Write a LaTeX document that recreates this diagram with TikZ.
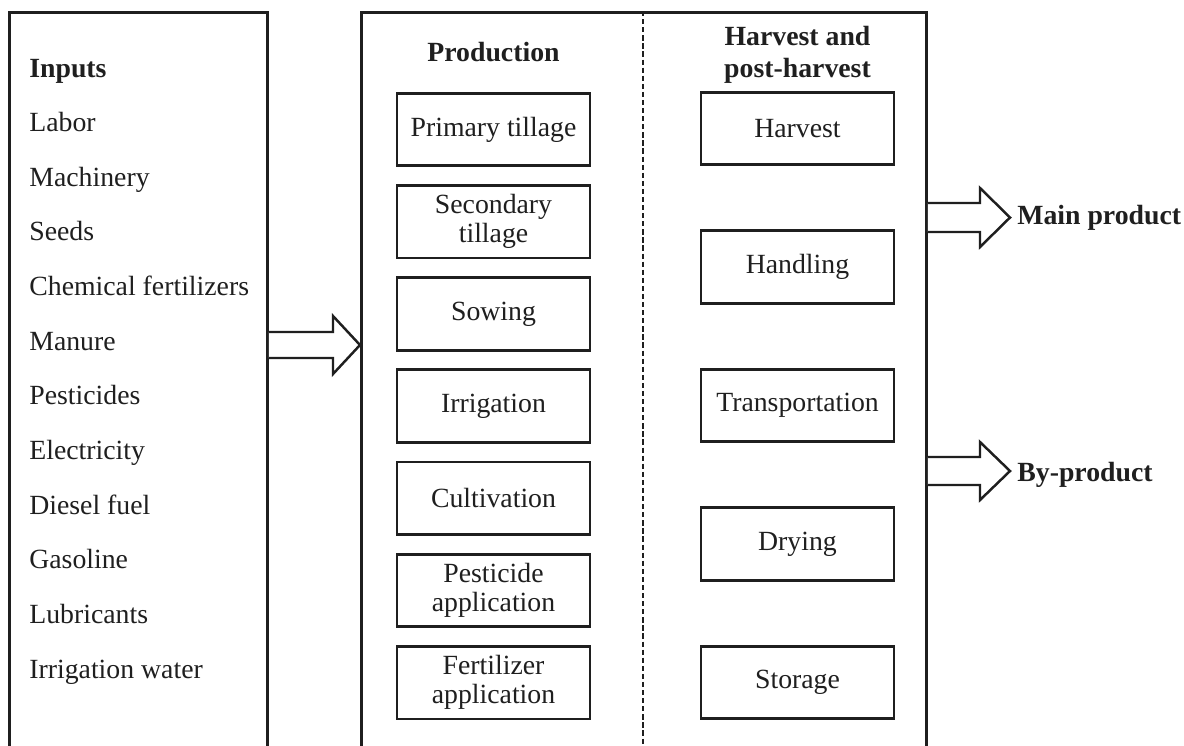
\documentclass[tikz,border=0pt]{standalone}
\usepackage{fontspec}
\setmainfont{Liberation Serif}
\usetikzlibrary{positioning}
\begin{document}
\begin{tikzpicture}[x=0.2mm, y=-0.2mm, color=black!88,
    txt/.style={font=\fontsize{15.8pt}{16.6pt}\selectfont, inner sep=0pt},
    head/.style={txt, font=\fontsize{15.8pt}{18.2pt}\selectfont\bfseries, align=center},
    bigbox/.style={draw, line width=1.6pt, anchor=north west, minimum height=156mm},
    stepbox/.style={draw, txt, line width=1.6pt, align=center, minimum width=38.6mm, minimum height=14.5mm},
    blockarrow/.style={draw, fill=white, line width=1.4pt, line join=miter},
    divider/.style={line width=1.2pt, dash pattern=on 3pt off 1.6pt}]
    % Page size
    \clip (0,0) rectangle (1184,745);
    \fill[white] (0,0) rectangle (1184,745);

    % Outer frames
    \node[bigbox, minimum width=51.6mm] (inputbox) at (8,11) {};
    \node[bigbox, minimum width=113mm] (stagebox) at (360,11) {};
    \draw[divider] (stagebox.north -| 643,0) -- (stagebox.south -| 643,0);

    % Inputs
    \node[head, anchor=base west] (inputs) at (29,77) {Inputs};
    \foreach \name [count=\i from 0] in {Labor, Machinery, Seeds, Chemical fertilizers,
        Manure, Pesticides, Electricity, Diesel fuel, Gasoline, Lubricants, Irrigation water}
        \node[txt, anchor=base west] (in\i) at (29,131.3+54.7*\i) {\name};

    % Production column
    \node[head, anchor=base] (prodhead) at (493.5,61) {Production};
    \foreach \name [count=\i from 0] in {Primary tillage, Secondary\\tillage, Sowing, Irrigation,
        Cultivation, Pesticide\\application, Fertilizer\\application}
        \node[stepbox] (prod\i) at (493.5,129.5+92.2*\i) {\name};

    % Harvest and post-harvest column
    \node[head, anchor=base] (harvhead) at (797.5,77) {Harvest and\\post-harvest};
    \foreach \name [count=\i from 0] in {Harvest, Handling, Transportation, Drying, Storage}
        \node[stepbox] (harv\i) at (797.5,128.5+138.5*\i) {\name};

    % Outputs
    \node[head, anchor=base west] (mainout) at (1017,224) {Main product};
    \node[head, anchor=base west] (byout) at (1017,481) {By-product};

    % Block arrows
    \draw[blockarrow] (inputbox.east |- 0,332) -- (333,332) -- (333,316)
        -- (stagebox.west |- 0,345) -- (333,374) -- (333,358) -- (inputbox.east |- 0,358);
    \draw[blockarrow] (stagebox.east |- 0,203) -- (980,203) -- (980,188)
        -- (1010,217.5) -- (980,247) -- (980,232) -- (stagebox.east |- 0,232);
    \draw[blockarrow] (stagebox.east |- 0,457) -- (980,457) -- (980,442)
        -- (1010,471) -- (980,500) -- (980,485) -- (stagebox.east |- 0,485);
\end{tikzpicture}
\end{document}
